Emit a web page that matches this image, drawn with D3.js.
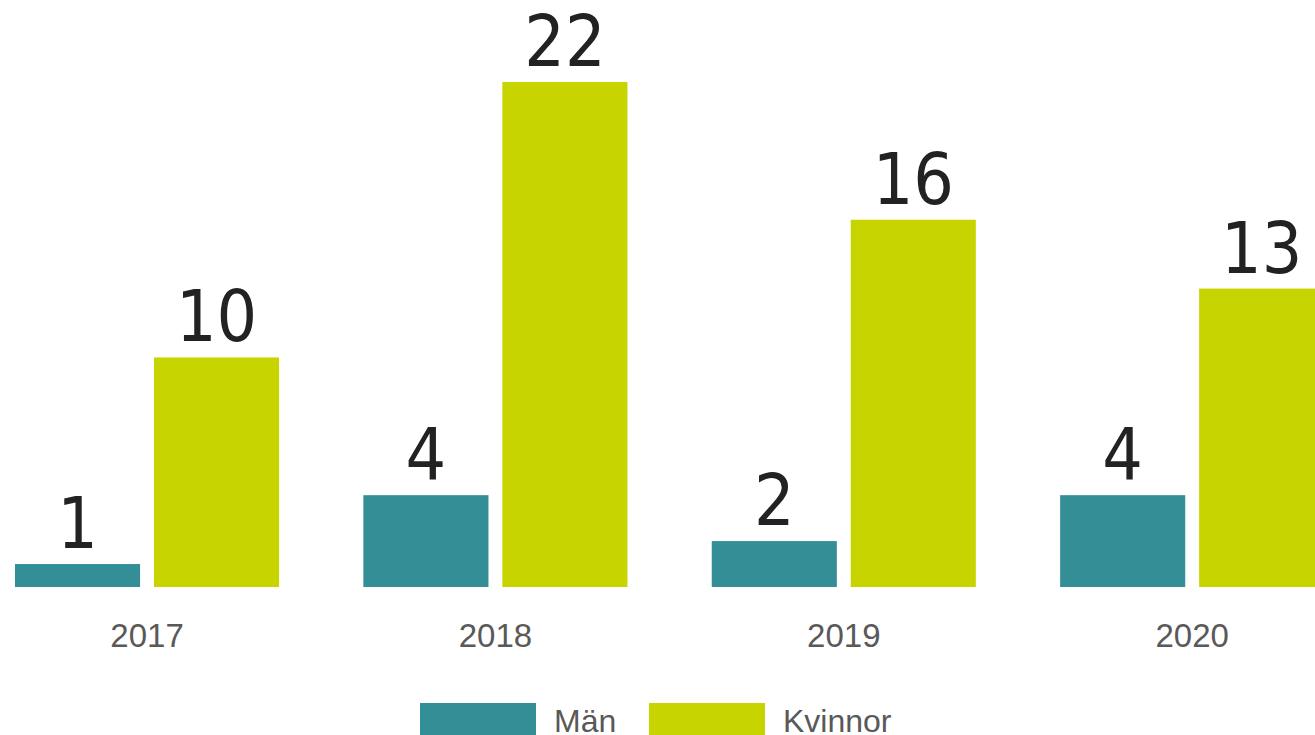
<!DOCTYPE html>
<html><head><meta charset="utf-8">
<script src="https://cdn.jsdelivr.net/npm/d3@7"></script>
<style>html,body{margin:0;padding:0;background:#fff;overflow:hidden}</style>
</head><body>
<script>
const years = ["2017","2018","2019","2020"];
const seriesNames = ["Män","Kvinnor"];
const man = [1,4,2,4];
const kvinnor = [10,22,16,13];
const colors = ["#338E95","#C8D400"];

const W = 1315, H = 735;
const svg = d3.select("body").append("svg").attr("width",W).attr("height",H);

const x0 = d3.scaleBand().domain(years).range([15, 1324.2]).paddingInner(0.242).paddingOuter(0);
const x1 = d3.scaleBand().domain(seriesNames).range([0, x0.bandwidth()]).paddingInner(0.1);
const y = d3.scaleLinear().domain([0,22]).range([587, 82]);
const color = d3.scaleOrdinal().domain(seriesNames).range(colors);

const data = years.map((yr,i)=>({year:yr, values:[{k:"Män",v:man[i]},{k:"Kvinnor",v:kvinnor[i]}]}));

const g = svg.selectAll("g.grp").data(data).join("g").attr("class","grp")
  .attr("transform", d=>`translate(${x0(d.year)},0)`);

g.selectAll("rect").data(d=>d.values).join("rect")
  .attr("x", d=>x1(d.k)).attr("width", x1.bandwidth())
  .attr("y", d=>y(d.v)).attr("height", d=>y(0)-y(d.v))
  .attr("fill", d=>color(d.k));

g.selectAll("text.val").data(d=>d.values).join("text").attr("class","val")
  .attr("x", d=>x1(d.k)+x1.bandwidth()/2).attr("y", d=>y(d.v)-16)
  .attr("text-anchor","middle")
  .attr("font-family","'DejaVu Sans Condensed', 'DejaVu Sans', sans-serif")
  .attr("font-stretch","condensed").attr("font-size",71)
  .attr("fill","#222").text(d=>d.v);

// x axis labels
const xAxis = d3.axisBottom(x0).tickSize(0).tickPadding(0);
const ax = svg.append("g").attr("transform","translate(0,587)").call(xAxis);
ax.select(".domain").remove();
ax.selectAll("text").attr("dy",null).attr("y",60)
  .attr("font-family","'Liberation Sans', Arial, sans-serif").attr("font-size",33).attr("fill","#595959");

// legend
const legX = [420, 649];
const leg = svg.selectAll("g.leg").data(seriesNames).join("g").attr("class","leg")
  .attr("transform",(d,i)=>`translate(${legX[i]},703)`);
leg.append("rect").attr("width",116).attr("height",36).attr("fill",d=>color(d));
leg.append("text").attr("x",134).attr("y",29)
  .attr("font-family","'Liberation Sans', Arial, sans-serif").attr("font-size",32).attr("fill","#595959")
  .text(d=>d);
</script>
</body></html>
